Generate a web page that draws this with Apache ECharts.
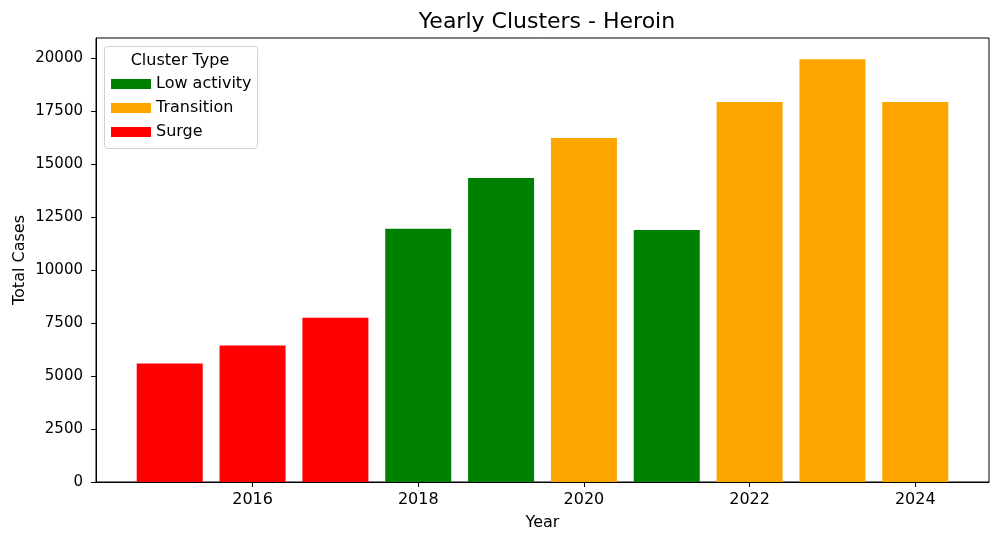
<!DOCTYPE html>
<html>
<head>
<meta charset="utf-8">
<script src="https://cdn.jsdelivr.net/npm/echarts@6/dist/echarts.min.js"></script>
<style>
html,body{margin:0;padding:0;background:#fff;}
#chart{width:1000px;height:543px;}
</style>
</head>
<body>
<div id="chart"></div>
<script>
const years = [2015, 2016, 2017, 2018, 2019, 2020, 2021, 2022, 2023, 2024];
const totals = [5590, 6440, 7750, 11950, 14350, 16240, 11900, 17940, 19960, 17940];
const clusters = ['Surge', 'Surge', 'Surge', 'Low activity', 'Low activity', 'Transition', 'Low activity', 'Transition', 'Transition', 'Transition'];
const clusterTypes = ['Low activity', 'Transition', 'Surge'];
const clusterColors = ['#008000', '#FFA500', '#FF0000'];
const xTicks = [2016, 2018, 2020, 2022, 2024];
const yTicks = [0, 2500, 5000, 7500, 10000, 12500, 15000, 17500, 20000];

const FONT = 'DejaVu Sans';
const chart = echarts.init(document.getElementById('chart'), null, {renderer: 'canvas'});

const series = clusterTypes.map((t, i) => ({
  name: t,
  type: 'bar',
  barWidth: 66,
  barGap: '-100%',
  itemStyle: {color: clusterColors[i]},
  data: years.map((y, j) => clusters[j] === t ? [y, totals[j]] : null).filter(d => d !== null)
}));

chart.setOption({
  animation: false,
  textStyle: {fontFamily: FONT},
  title: {
    text: 'Yearly Clusters - Heroin',
    left: 542, textAlign: 'center', top: 6,
    textStyle: {fontFamily: FONT, fontSize: 22, fontWeight: 'normal', color: '#000'}
  },
  grid: {left: 96, right: 11, top: 38, bottom: 61, show: true, borderColor: '#000', borderWidth: 1, backgroundColor: 'transparent', containLabel: false, outerBoundsMode: 'none'},
  legend: {
    orient: 'vertical',
    left: 106, top: 71,
    icon: 'rect',
    itemWidth: 40, itemHeight: 10,
    itemGap: 8,
    data: clusterTypes,
    textStyle: {fontFamily: FONT, fontSize: 16, color: '#000'}
  },
  graphic: [
    {type: 'rect', left: 104, top: 46, z: 0,
     shape: {width: 153, height: 102, r: 3},
     style: {fill: 'rgba(255,255,255,0.8)', stroke: '#d0d0d0', lineWidth: 1}},
    {type: 'text', x: 180, y: 61, z: 10,
     style: {text: 'Cluster Type', textAlign: 'center', textVerticalAlign: 'middle', font: '16px "DejaVu Sans"', fill: '#000'}}
  ],
  xAxis: {
    type: 'value',
    min: 2014.11, max: 2024.89,
    name: 'Year', nameLocation: 'middle', nameGap: 33,
    nameTextStyle: {fontFamily: FONT, fontSize: 16, color: '#000'},
    axisLine: {show: true, lineStyle: {color: '#000', width: 1}},
    axisTick: {show: true, length: 5, lineStyle: {color: '#000'}, customValues: xTicks},
    axisLabel: {fontFamily: FONT, fontSize: 16, color: '#000', margin: 10, customValues: xTicks, formatter: v => String(v)},
    splitLine: {show: false}
  },
  yAxis: {
    type: 'value',
    min: 0, max: 20958,
    name: 'Total Cases', nameLocation: 'middle', nameGap: 68, nameMoveOverlap: false,
    nameTextStyle: {fontFamily: FONT, fontSize: 16, color: '#000'},
    axisLine: {show: true, lineStyle: {color: '#000', width: 1}},
    axisTick: {show: true, length: 5, lineStyle: {color: '#000'}, customValues: yTicks},
    axisLabel: {fontFamily: FONT, fontSize: 15, color: '#000', margin: 13, customValues: yTicks, formatter: v => String(v)},
    splitLine: {show: false}
  },
  series: series
});
</script>
</body>
</html>
